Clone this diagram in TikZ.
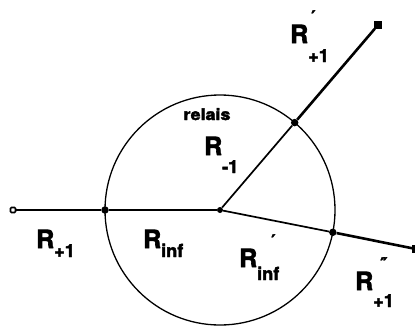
\documentclass[tikz,border=0pt]{standalone}
\usepackage{fontspec}
\setmainfont{TeX Gyre Heros}[BoldFeatures={FakeBold=2.5}]
\newfontfamily\markfont{DejaVu Sans}[BoldFeatures={FakeBold=3}]
\usepackage{tikz}
\usetikzlibrary{positioning}

% label: R with a dropped index and an optional mark
% #1 index, #2 drop of the index, #3 mark, #4 shift of the mark
\newcommand{\rlab}[4]{R\rlap{\hspace*{#4}\raisebox{21pt}{\markfont\bfseries\fontsize{16}{16}\selectfont #3}}\raisebox{-#2}{\fontsize{18}{18}\selectfont #1}}

\tikzset{
  outer/.style={line width=2.6pt},
  inner/.style={line width=1.7pt},
  cross/.style={circle, fill=black, inner sep=0pt, minimum size=7.5pt},
  endbox/.style={rectangle, draw=black, line width=1.4pt, fill=black, inner sep=0pt, minimum size=6pt},
  openbox/.style={rectangle, rounded corners=1pt, draw=black, line width=1.6pt, fill=white, inner sep=0pt, minimum width=5pt, minimum height=5pt},
  rlabel/.style={anchor=base west, inner sep=0pt, font=\bfseries\fontsize{25}{25}\selectfont},
}

\begin{document}
\begin{tikzpicture}[x=1pt, y=-1pt]
			\useasboundingbox (0,0) rectangle (415,330);
			% Circle and junctions:
			\coordinate (C) at (220,210);
			\draw[line width=1.3pt] (C) circle[radius=115];
			\node[cross, minimum size=6pt](N0) at (C){};
			\node[cross](N1) at (105,210){};
			\node[cross](N2) at (294.7,122.6){};
			\node[cross](N3) at (332.8,232.3){};
			% Ends:
			\node[openbox](E1) at (13,210){};
			\node[endbox](E2) at (378,25){};
			\node[endbox](E3) at (416,249){};
			% Branches:
			\draw[outer] (E1) -- (N1);
			\draw[inner] (N1) -- (N0);
			\draw[inner] (N0) -- (N2);
			\draw[outer] (N2) -- (E2);
			\draw[inner] (N0) -- (N3);
			\draw[outer] (N3) -- (E3.center);
			% Labels:
			\node[anchor=base, inner sep=0pt, font=\bfseries\fontsize{16}{16}\selectfont, xscale=1.12](L0) at (207,120){relais};
			\node[rlabel](L1) at (36,248){\rlab{+1}{9pt}{}{0pt}};
			\node[rlabel](L2) at (143,248){\rlab{inf}{9pt}{}{0pt}};
			\node[rlabel](L3) at (204,155){\rlab{-1}{18pt}{}{0pt}};
			\node[rlabel](L4) at (239,267){\rlab{inf}{13pt}{′}{14pt}};
			\node[rlabel](L5) at (290,43){\rlab{+1}{19pt}{′}{3pt}};
			\node[rlabel](L6) at (355,290){\rlab{+1}{17pt}{″}{7pt}};
		\end{tikzpicture}
\end{document}
